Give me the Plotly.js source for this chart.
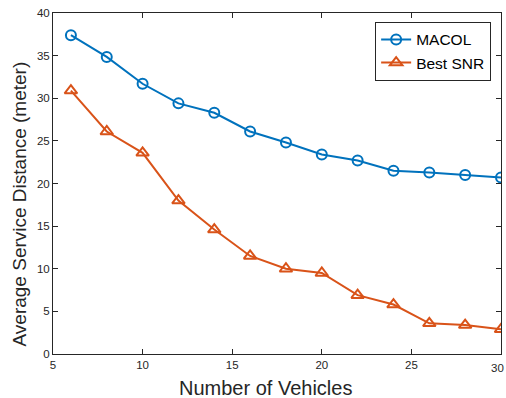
<!DOCTYPE html>
<html>
<head>
<meta charset="utf-8">
<script src="https://cdn.plot.ly/plotly-3.0.1.min.js"></script>
<style>html,body{margin:0;padding:0;background:#fff;}#chart{width:506px;height:398px;}</style>
</head>
<body>
<div id="chart"></div>
<script>
const vehicles = [6, 8, 10, 12, 14, 16, 18, 20, 22, 24, 26, 28, 30];
const macol = [37.4, 34.85, 31.7, 29.4, 28.3, 26.1, 24.8, 23.4, 22.7, 21.5, 21.3, 21.0, 20.7];
const bestSnr = [30.9, 26.1, 23.6, 18.0, 14.6, 11.5, 10.0, 9.5, 6.9, 5.8, 3.6, 3.4, 2.9];
const xTicks = [5, 10, 15, 20, 25, 30];
const xTickText = ['5', '10', '15', '20', '25', ''];
const lastXTick = '30';
const yTicks = [0, 5, 10, 15, 20, 25, 30, 35, 40];
const xTitle = 'Number of Vehicles';
const yTitle = 'Average Service Distance (meter)';

const font = "'Liberation Sans', Arial, Helvetica, sans-serif";
const traces = [
  {x: vehicles, y: macol, name: 'MACOL', type: 'scatter', mode: 'lines+markers',
   line: {color: '#0072BD', width: 2},
   marker: {symbol: 'circle-open', size: 10, color: '#0072BD', line: {width: 2, color: '#0072BD'}}},
  {x: vehicles, y: bestSnr, name: 'Best SNR', type: 'scatter', mode: 'lines+markers',
   line: {color: '#D95319', width: 2},
   marker: {symbol: 'triangle-up-open', size: 11, color: '#D95319', line: {width: 2, color: '#D95319'}}}
];
const axisCommon = {
  showline: true, linecolor: '#262626', linewidth: 1, mirror: 'ticks',
  ticks: 'inside', ticklen: 5, tickcolor: '#262626', tickwidth: 1,
  showgrid: false, zeroline: false,
  tickfont: {family: font, size: 11.5, color: '#262626'}
};
const layout = {
  width: 506, height: 398,
  margin: {l: 53, r: 5, t: 13, b: 44},
  paper_bgcolor: '#fff', plot_bgcolor: '#fff',
  showlegend: true,
  legend: {x: 0.978, y: 0.974, xanchor: 'right', yanchor: 'top',
    bordercolor: '#262626', borderwidth: 1, bgcolor: '#fff',
    font: {family: font, size: 15.5, color: '#000'}, tracegroupgap: 0, itemwidth: 30},
  xaxis: Object.assign({}, axisCommon, {range: [5, 30], tickvals: xTicks, ticktext: xTickText}),
  yaxis: Object.assign({}, axisCommon, {range: [0, 40], tickvals: yTicks}),
  annotations: [
    {text: lastXTick, xref: 'x', yref: 'paper', x: xTicks[xTicks.length - 1], xshift: -4, y: -0.041,
     xanchor: 'center', yanchor: 'middle', showarrow: false,
     font: {family: font, size: 11.5, color: '#262626'}},
    {text: xTitle, xref: 'paper', yref: 'paper', x: 0.4754, y: -0.0997,
     xanchor: 'center', yanchor: 'middle', showarrow: false,
     font: {family: font, size: 20, color: '#262626'}},
    {text: yTitle, xref: 'paper', yref: 'paper', x: -0.0737, y: 0.4413,
     xanchor: 'center', yanchor: 'middle', showarrow: false, textangle: -90,
     font: {family: font, size: 19, color: '#262626'}}
  ]
};
Plotly.newPlot('chart', traces, layout, {displayModeBar: false, staticPlot: true});
</script>
</body>
</html>
